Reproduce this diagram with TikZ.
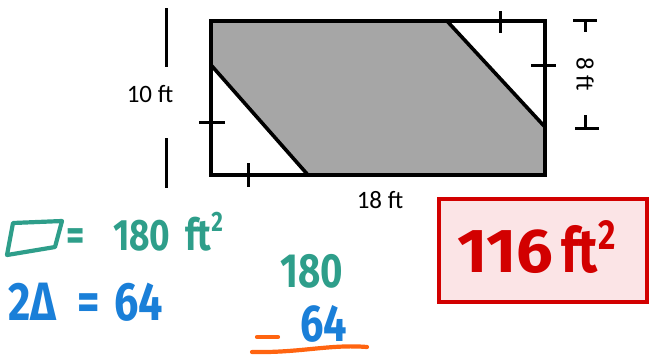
\documentclass[tikz,border=0pt]{standalone}
\usepackage{fontspec}
\usepackage{graphicx}
\setmainfont{Carlito}
\newfontfamily\hand{Fira Sans}[FakeStretch=0.8]
\definecolor{tealc}{RGB}{46,158,138}
\definecolor{bluec}{RGB}{26,127,216}
\definecolor{orangec}{RGB}{255,100,16}
\definecolor{redc}{RGB}{210,0,0}
\definecolor{pinkc}{RGB}{251,228,230}
\definecolor{grayc}{RGB}{166,166,166}
\tikzset{
  edge/.style={line width=3.6bp, line join=miter},
  tick/.style={line width=3bp},
  lbl/.style={font=\fontsize{25bp}{25bp}\selectfont, inner sep=0pt},
  pen/.style={line width=4.2bp, line cap=round, line join=round},
  handtxt/.style={inner sep=0pt, anchor=base west},
}
\begin{document}
\begin{tikzpicture}[x=1bp,y=-1bp]
\useasboundingbox (0,0) rectangle (650,354);
% rectangle corners and cut points
\coordinate (A) at (211,21);
\coordinate (B) at (545,21);
\coordinate (C) at (545,175);
\coordinate (D) at (211,175);
\coordinate (P1) at (447,21);
\coordinate (P2) at (545,127);
\coordinate (P3) at (308,175);
\coordinate (P4) at (211,65);
\fill[grayc] (A) -- (P1) -- (P2) -- (C) -- (P3) -- (P4) -- cycle;
\draw[edge] (A) -- (B) -- (C) -- (D) -- cycle;
\draw[edge] (P1) -- (P2);
\draw[edge] (P3) -- (P4);
% tick marks
\draw[tick] (500,11) -- (500,33);
\draw[tick] (531,65) -- (556,65);
\draw[tick] (199,122) -- (225,122);
\draw[tick] (248,163) -- (248,187);
% left dimension
\draw[tick] (166,8) -- (166,67);
\draw[tick] (166,138) -- (166,188);
\node[lbl] (ten) at (150,94) {10 ft};
% right dimension
\draw[tick] (573,20) -- (597,20);
\draw[tick] (585,20) -- (585,32);
\draw[tick] (575,128) -- (599,128);
\draw[tick] (585,115) -- (585,128);
\node[lbl, rotate=-90] (eight) at (585,74) {8 ft};
% bottom label
\node[lbl] (eighteen) at (380,200) {18 ft};
% answer box
\node[draw=redc, fill=pinkc, line width=4bp, minimum width=208bp, minimum height=103bp, inner sep=0pt] (ans) at (543,250) {};
\node[handtxt, text=redc, font=\hand\bfseries\fontsize{62bp}{62bp}\selectfont] (anstxt) at (457,272)
  {\makebox[104bp][l]{\addfontfeature{FakeStretch=1.05}116}ft\raisebox{0.36em}{\fontsize{42bp}{42bp}\selectfont 2}};
% handwritten work
\draw[pen, tealc] (13,223) -- (62,221) -- (55,247) -- (7,255) -- cycle;
\node[handtxt, text=tealc, font=\hand\bfseries\fontsize{44bp}{44bp}\selectfont] (rect) at (66,250)
  {\makebox[47bp][l]{=}\makebox[72bp][l]{180}ft\raisebox{0.42em}{\fontsize{28bp}{28bp}\selectfont 2}};
\node[handtxt, text=bluec, font=\hand\bfseries\fontsize{54bp}{54bp}\selectfont] (tri) at (8,320)
  {\makebox[69bp][l]{2Δ}\makebox[37bp][l]{=}64};
\node[handtxt, text=tealc, font=\hand\bfseries\fontsize{48bp}{48bp}\selectfont] (a180) at (280,287) {180};
\node[handtxt, text=bluec, font=\hand\bfseries\fontsize{52bp}{52bp}\selectfont] (a64) at (300,341) {64};
\draw[pen, orangec] (257,337) -- (278,337);
\draw[pen, orangec] (252,352) .. controls (300,353) and (330,344) .. (367,347);
\end{tikzpicture}
\end{document}
